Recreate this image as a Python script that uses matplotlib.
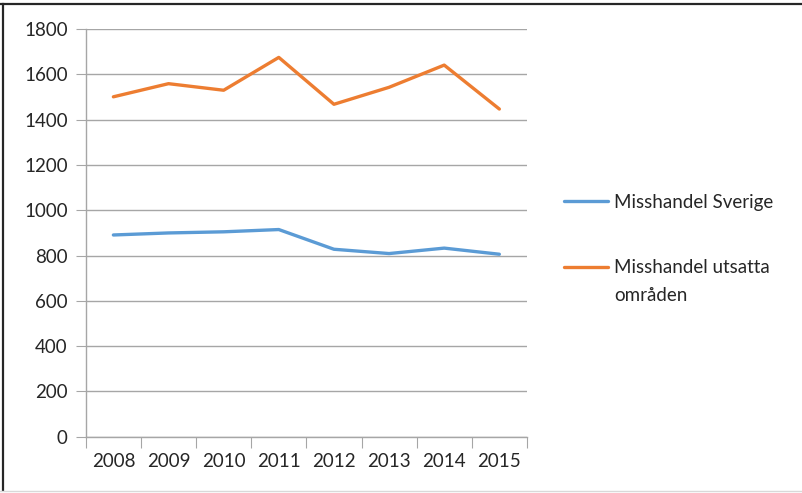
import numpy as np
import matplotlib.pyplot as plt
from matplotlib.lines import Line2D
from matplotlib.legend_handler import HandlerLine2D

years = ["2008", "2009", "2010", "2011", "2012", "2013", "2014", "2015"]
sverige = [891, 900, 905, 915, 828, 809, 833, 806]
utsatta = [1501, 1559, 1530, 1675, 1468, 1543, 1641, 1447]
labels = ["Misshandel Sverige", "Misshandel utsatta\nområden"]

plt.rcParams['font.family'] = ['Lato', 'DejaVu Sans']


# legend key that sits level with the first line of a two-line label (like Excel)
class RaisedLine(HandlerLine2D):
    def __init__(self, dy, **kw):
        super().__init__(**kw)
        self.dy = dy

    def create_artists(self, legend, orig_handle, xdescent, ydescent, width, height, fontsize, trans):
        arts = super().create_artists(legend, orig_handle, xdescent, ydescent, width, height, fontsize, trans)
        for a in arts:
            a.set_ydata(np.asarray(a.get_ydata()) + self.dy)
        return arts


fig = plt.figure(figsize=(8.02, 4.93), dpi=100)
ax = fig.add_axes([0.107, 0.114, 0.55, 0.827])

x = range(len(years))
l1, = ax.plot(x, sverige, color="#5B9BD5", lw=2.4, label=labels[0], solid_capstyle="round")
l2, = ax.plot(x, utsatta, color="#ED7D31", lw=2.4, label=labels[1], solid_capstyle="round")

ax.set_ylim(0, 1800)
ax.set_yticks(range(0, 1801, 200))
ax.set_xlim(-0.5, len(years) - 0.5)
ax.set_xticks([i - 0.5 for i in range(len(years) + 1)])
ax.set_xticklabels([])
ax.set_xticks(list(x), minor=True)
ax.set_xticklabels(years, minor=True)
ax.tick_params(axis="x", which="major", length=8, color="#A6A6A6", direction="out")
ax.tick_params(axis="x", which="minor", length=0, pad=12, labelsize=13.5, labelcolor="#262626")
ax.tick_params(axis="y", length=7, color="#A6A6A6", labelsize=13.5, labelcolor="#262626", pad=6)

ax.grid(axis="y", color="#A6A6A6", lw=1)
ax.set_axisbelow(True)
for s in ["top", "right"]:
    ax.spines[s].set_visible(False)
for s in ["left", "bottom"]:
    ax.spines[s].set_color("#A6A6A6")
    ax.spines[s].set_linewidth(1)

leg = ax.legend(loc="upper left", bbox_to_anchor=(1.045, 0.638), frameon=False,
                fontsize=13.5, handlelength=2.35, handletextpad=0.35, labelspacing=2.6,
                handler_map={l2: RaisedLine(10.5)})
for t in leg.get_texts():
    t.set_color("#262626")
    t.set_linespacing(1.75)

# frame of the original screenshot
fig.add_artist(Line2D([0, 1], [1 - 3.5 / 493] * 2, color="#262626", lw=1.6))
fig.add_artist(Line2D([3.5 / 802] * 2, [1 - 3.5 / 493, 1 - 490 / 493], color="#262626", lw=1.6))
fig.add_artist(Line2D([0, 1], [1 - 491 / 493] * 2, color="#D9D9D9", lw=1))

fig.savefig("out.png", dpi=100)
